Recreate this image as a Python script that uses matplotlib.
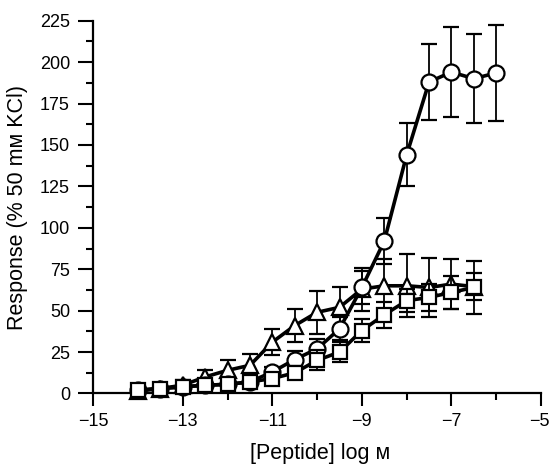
import matplotlib.pyplot as plt
import matplotlib.transforms as mtrans
import numpy as np

plt.rcParams["font.family"] = ["Liberation Sans", "DejaVu Sans"]

# log molar peptide concentration
conc_circ = np.arange(-14, -5.9, 0.5)
conc_tri = np.arange(-14, -6.4, 0.5)
conc_sq = np.arange(-14, -6.4, 0.5)

resp_circ = [2, 3, 4, 5, 5.5, 7, 13, 20.5, 27, 39, 64, 92, 144, 188, 194, 190, 193.5]
err_circ = [1, 1, 1, 1, 1, 2, 3, 5, 6, 7, 10, 14, 19, 23, 27, 27, 29]

resp_tri = [1.5, 3, 5, 10, 14, 17, 31, 41, 49, 52, 63, 65, 65, 64, 66, 64.5]
err_tri = [1, 2, 3, 4, 6, 7, 8, 10, 13, 12, 13, 16, 19, 18, 15, 8]

resp_sq = [2, 3, 4, 5, 5.5, 7, 9, 12.5, 20, 25, 38, 47.5, 56, 58, 61, 64]
err_sq = [1, 1, 1, 1, 1, 2, 3, 4, 6, 6, 7, 8, 7, 8, 10, 16]

fig = plt.figure(figsize=(5.51, 4.65), dpi=100)
ax = fig.add_axes([0.1693, 0.1538, 0.8125, 0.8017])

style = dict(color="black", lw=2.6, mfc="white", mec="black", mew=1.6,
             ecolor="black", elinewidth=1.3, capsize=5.5, capthick=1.3)
for conc, resp, err, mk, ms, z in [
    (conc_tri, resp_tri, err_tri, "^", 12, 2),
    (conc_circ, resp_circ, err_circ, "o", 11.5, 3),
    (conc_sq, resp_sq, err_sq, "s", 10, 4),
]:
    lines = ax.errorbar(conc, resp, yerr=err, marker=mk, ms=ms, zorder=z, **style)
    for art in lines.get_children():
        art.set_clip_on(False)

ax.set_xlim(-15, -5)
ax.set_ylim(0, 225)
ax.set_xticks(np.arange(-15, -4, 2))
ax.set_xticklabels(["\u221215", "\u221213", "\u221211", "\u22129", "\u22127", "\u22125"])
ax.set_xticks(np.arange(-14, -5, 2), minor=True)
ax.set_yticks(np.arange(0, 226, 25))
ax.set_yticks(np.arange(12.5, 225, 25), minor=True)

for s in ["top", "right"]:
    ax.spines[s].set_visible(False)
for s in ["left", "bottom"]:
    ax.spines[s].set_linewidth(1.6)
ax.tick_params(which="both", direction="out", width=1.5, labelsize=13)
ax.tick_params(axis="y", which="major", length=10.8, pad=6)
ax.tick_params(axis="x", which="major", length=9.4, pad=5)
ax.tick_params(which="minor", length=5)

# keep the last x label inside the canvas
lab = ax.get_xticklabels()[-1]
lab.set_transform(lab.get_transform() + mtrans.ScaledTranslation(-2 / 100, 0, fig.dpi_scale_trans))

ax.set_xlabel("[Peptide] log \u043c", fontsize=15.5, va="top")
ax.set_ylabel("Response (% 50 m\u043c KCl)", fontsize=15.5)
ax.xaxis.set_label_coords(0.507, -0.133)
ax.yaxis.set_label_coords(-0.146, 0.5)

fig.savefig("out.png", dpi=100)
